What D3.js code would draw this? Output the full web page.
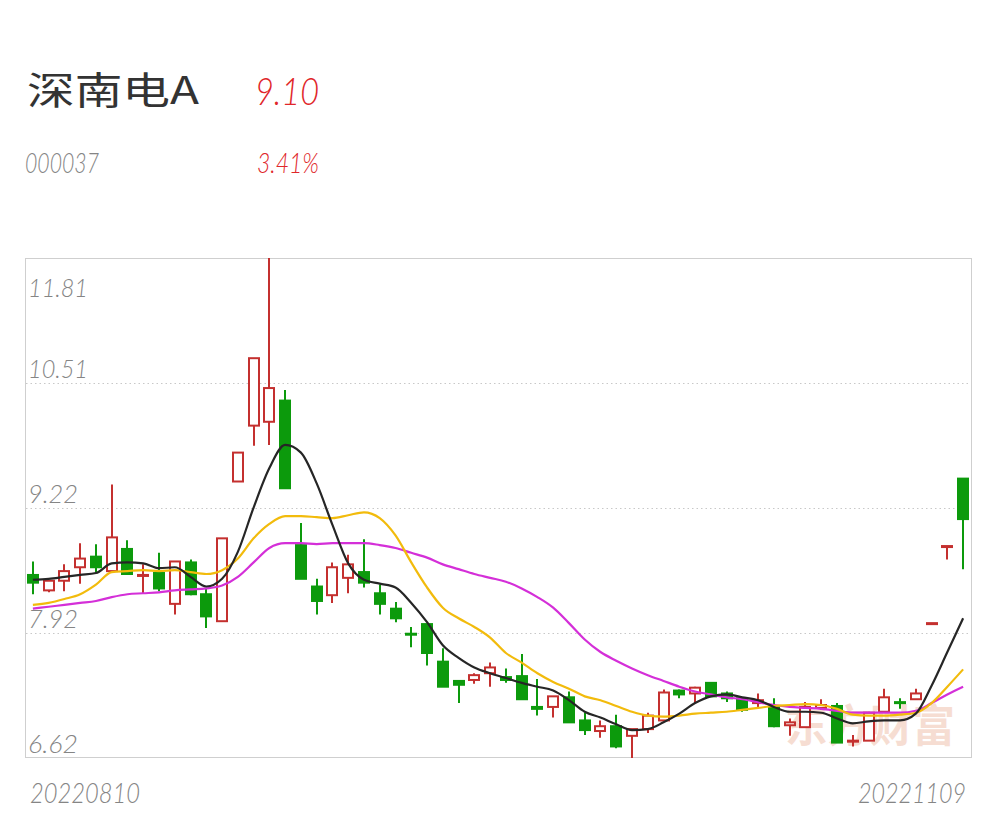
<!DOCTYPE html>
<html>
<head>
<meta charset="utf-8">
<script src="https://cdn.jsdelivr.net/npm/d3@7/dist/d3.min.js"></script>
<style>
html,body{margin:0;padding:0;background:#fff;}
svg{display:block;}
</style>
</head>
<body>
<svg id="chart" width="996" height="818"></svg>
<script>
const dates = ["20220810","20220811","20220812","20220815","20220816","20220817","20220818","20220819","20220822","20220823","20220824","20220825","20220826","20220829","20220830","20220831",
"20220901","20220902","20220905","20220906","20220907","20220908","20220909","20220913","20220914","20220915","20220916","20220919","20220920","20220921","20220922","20220923","20220926","20220927","20220928","20220929","20220930",
"20221010","20221011","20221012","20221013","20221014","20221017","20221018","20221019","20221020","20221021","20221024","20221025","20221026","20221027","20221028","20221031",
"20221101","20221102","20221103","20221104","20221107","20221108","20221109"];
const openP  = [8.52,8.36,8.46,8.60,8.71,8.56,8.79,8.51,8.54,8.22,8.65,8.32,8.04,9.49,10.07,10.11,10.33,8.83,8.40,8.31,8.49,8.55,8.33,8.17,7.91,8.01,7.62,7.42,7.43,7.50,7.46,7.47,7.15,7.15,7.25,7.01,6.90,6.95,6.85,6.92,7.01,7.32,7.29,7.40,7.29,7.24,7.19,7.15,6.96,6.94,7.14,7.16,6.79,6.80,7.10,7.20,7.23,8.02,8.82,9.52];
const highP  = [8.66,8.46,8.63,8.85,8.84,9.46,8.88,8.63,8.75,8.66,8.68,8.38,8.90,9.79,10.77,11.81,10.44,9.06,8.48,8.65,8.73,8.89,8.42,8.24,7.98,8.01,7.76,7.42,7.50,7.61,7.55,7.70,7.44,7.26,7.31,7.09,7.01,7.07,6.92,7.09,7.33,7.33,7.36,7.40,7.31,7.25,7.29,7.24,7.03,7.20,7.23,7.19,6.86,7.10,7.34,7.24,7.34,8.02,8.82,9.52];
const lowP   = [8.32,8.34,8.35,8.43,8.55,8.55,8.52,8.33,8.35,8.11,8.31,7.97,8.04,9.49,9.86,9.87,9.42,8.48,8.11,8.23,8.33,8.39,8.11,8.03,7.77,7.58,7.36,7.19,7.39,7.36,7.40,7.23,7.06,7.04,6.99,6.86,6.83,6.72,6.62,6.88,7.01,7.24,7.19,7.26,7.20,7.10,7.14,6.94,6.85,6.94,7.12,6.78,6.74,6.80,7.09,7.13,7.23,8.02,8.68,8.58];
const closeP = [8.44,8.46,8.56,8.69,8.60,8.91,8.53,8.52,8.38,8.66,8.32,8.09,8.90,9.79,10.77,10.46,9.42,8.48,8.25,8.60,8.63,8.44,8.22,8.07,7.90,7.71,7.36,7.38,7.48,7.56,7.43,7.23,7.13,7.26,6.99,6.91,6.95,6.74,6.92,7.06,7.30,7.28,7.35,7.26,7.24,7.12,7.22,6.95,6.99,7.15,7.17,6.78,6.80,7.09,7.25,7.19,7.29,8.02,8.82,9.10];
const ma5  = [8.47,8.48,8.50,8.52,8.54,8.64,8.65,8.64,8.59,8.60,8.50,8.40,8.48,8.76,9.22,9.63,9.87,9.79,9.47,9.04,8.64,8.47,8.43,8.39,8.23,8.03,7.79,7.66,7.56,7.50,7.45,7.40,7.36,7.32,7.22,7.10,7.04,6.97,6.91,6.92,6.99,7.08,7.19,7.26,7.28,7.25,7.22,7.15,7.10,7.10,7.09,7.03,6.98,7.00,7.01,7.01,7.08,7.37,7.72,8.07];
const ma10 = [8.21,8.23,8.27,8.32,8.42,8.55,8.56,8.57,8.56,8.57,8.55,8.53,8.57,8.69,8.90,9.05,9.13,9.13,9.12,9.11,9.14,9.17,9.11,8.93,8.65,8.39,8.18,8.07,7.98,7.87,7.71,7.61,7.50,7.41,7.34,7.26,7.22,7.16,7.10,7.06,7.05,7.06,7.08,7.09,7.10,7.12,7.14,7.16,7.17,7.18,7.17,7.13,7.07,7.06,7.06,7.07,7.09,7.19,7.36,7.54];
const ma20 = [8.17,8.19,8.21,8.23,8.25,8.29,8.32,8.33,8.34,8.36,8.37,8.38,8.41,8.50,8.65,8.80,8.85,8.85,8.84,8.85,8.85,8.85,8.83,8.80,8.75,8.70,8.63,8.58,8.53,8.49,8.45,8.38,8.29,8.18,8.02,7.85,7.72,7.63,7.55,7.48,7.42,7.36,7.31,7.28,7.25,7.23,7.20,7.17,7.15,7.14,7.13,7.11,7.09,7.09,7.09,7.09,7.11,7.19,7.28,7.36];
const yTicks = [6.62, 7.92, 9.22, 10.51, 11.81];
const yTickLabels = ["6.62","7.92","9.22","10.51","11.81"];
const stockName = "深南电A";
const stockCode = "000037";
const lastPrice = "9.10";
const changePct = "3.41%";
const watermark = "东方财富";

const svg = d3.select("#chart");
const L = 25, R = 971, T = 258, B = 758;
const RED = "#c4302f", GREEN = "#0c9a0c";
const GRAY = "#858585";

const x = d3.scaleBand().domain(dates).range([L, R]).padding(0);
const y = d3.scaleLinear().domain([yTicks[0], yTicks[yTicks.length-1]]).range([B, T]);

// header
svg.append("text").attr("x",27).attr("y",104).attr("font-family","'Noto Sans CJK SC'")
  .attr("font-size",38).attr("fill","#333").attr("textLength",172).attr("lengthAdjust","spacingAndGlyphs")
  .text(stockName);
svg.append("text").attr("x",255).attr("y",105).attr("font-family","Lato, sans-serif").attr("font-weight",300)
  .attr("font-style","italic").attr("font-size",37).attr("fill","#e0262a").attr("textLength",64).attr("lengthAdjust","spacingAndGlyphs").text(lastPrice);
svg.append("text").attr("x",25).attr("y",173).attr("font-family","Lato, sans-serif").attr("font-weight",300)
  .attr("font-style","italic").attr("font-size",27).attr("fill",GRAY).attr("textLength",74).attr("lengthAdjust","spacingAndGlyphs").text(stockCode);
svg.append("text").attr("x",257).attr("y",173).attr("font-family","Lato, sans-serif").attr("font-weight",300)
  .attr("font-style","italic").attr("font-size",27).attr("fill","#e0262a").attr("textLength",62).attr("lengthAdjust","spacingAndGlyphs").text(changePct);

// frame
svg.append("rect").attr("x",L+0.5).attr("y",T+0.5).attr("width",R-L).attr("height",B-T-1)
  .attr("fill","none").attr("stroke","#cfcfcf").attr("stroke-width",1);

// grid
svg.append("g").selectAll("line").data(yTicks.slice(1,-1)).join("line")
  .attr("x1",L+1).attr("x2",R).attr("y1",d=>Math.round(y(d))+0.5).attr("y2",d=>Math.round(y(d))+0.5)
  .attr("stroke","#c8c8c8").attr("stroke-dasharray","1.5,3").attr("stroke-width",1);

// y labels
svg.append("g").selectAll("text").data(yTickLabels).join("text")
  .attr("x",28).attr("y",(d,i)=> i===yTicks.length-1 ? y(yTicks[i])+39 : y(yTicks[i])-5)
  .attr("font-family","Lato, sans-serif").attr("font-weight",300).attr("font-style","italic")
  .attr("font-size",25).attr("fill",GRAY)
  .attr("textLength",d=>d.length===5?60:50).attr("lengthAdjust","spacingAndGlyphs")
  .text(d=>d);

// x labels
svg.append("text").attr("x",30).attr("y",803).attr("font-family","Lato, sans-serif").attr("font-weight",300)
  .attr("font-style","italic").attr("font-size",27).attr("fill",GRAY).attr("textLength",110).attr("lengthAdjust","spacingAndGlyphs").text(dates[0]);
svg.append("text").attr("x",858).attr("y",803).attr("font-family","Lato, sans-serif").attr("font-weight",300)
  .attr("font-style","italic").attr("font-size",27).attr("fill",GRAY).attr("textLength",108).attr("lengthAdjust","spacingAndGlyphs").text(dates[dates.length-1]);

// watermark
svg.append("text").attr("x",785).attr("y",742).attr("font-family","'Noto Sans CJK SC'").attr("font-weight",700)
  .attr("font-size",44).attr("fill","#f6ddd2").attr("textLength",170).attr("lengthAdjust","spacingAndGlyphs").text(watermark);

// candles
const data = dates.map((d,i)=>({d, o:openP[i], h:highP[i], l:lowP[i], c:closeP[i]}));
const bw = 10;
const g = svg.append("g");
data.forEach(k=>{
  const cx = Math.round(x(k.d) + x.bandwidth()/2);
  const up = k.c >= k.o;
  const col = up ? RED : GREEN;
  const top = y(Math.max(k.o,k.c)), bot = y(Math.min(k.o,k.c));
  if (up) {
    if (y(k.h) < top - 0.5) g.append("line").attr("x1",cx).attr("x2",cx).attr("y1",y(k.h)).attr("y2",top).attr("stroke",col).attr("stroke-width",2);
    if (y(k.l) > bot + 0.5) g.append("line").attr("x1",cx).attr("x2",cx).attr("y1",bot).attr("y2",y(k.l)).attr("stroke",col).attr("stroke-width",2);
    g.append("rect").attr("x",cx-bw/2).attr("y",top).attr("width",bw).attr("height",Math.max(bot-top,1))
      .attr("fill","#fff").attr("stroke",col).attr("stroke-width",2);
  } else {
    g.append("line").attr("x1",cx).attr("x2",cx).attr("y1",y(k.h)).attr("y2",y(k.l)).attr("stroke",col).attr("stroke-width",2);
    g.append("rect").attr("x",cx-bw/2-1).attr("y",top-1).attr("width",bw+2).attr("height",Math.max(bot-top+2,3))
      .attr("fill",col);
  }
});

// MA lines
const line = d3.line().x((v,i)=>x(dates[i])+x.bandwidth()/2).y(v=>y(v)).curve(d3.curveMonotoneX);
[[ma20,"#d42fd8"],[ma10,"#f2bb0c"],[ma5,"#262626"]].forEach(([arr,col])=>{
  svg.append("path").attr("d",line(arr)).attr("fill","none").attr("stroke",col).attr("stroke-width",2.2);
});
</script>
</body>
</html>
